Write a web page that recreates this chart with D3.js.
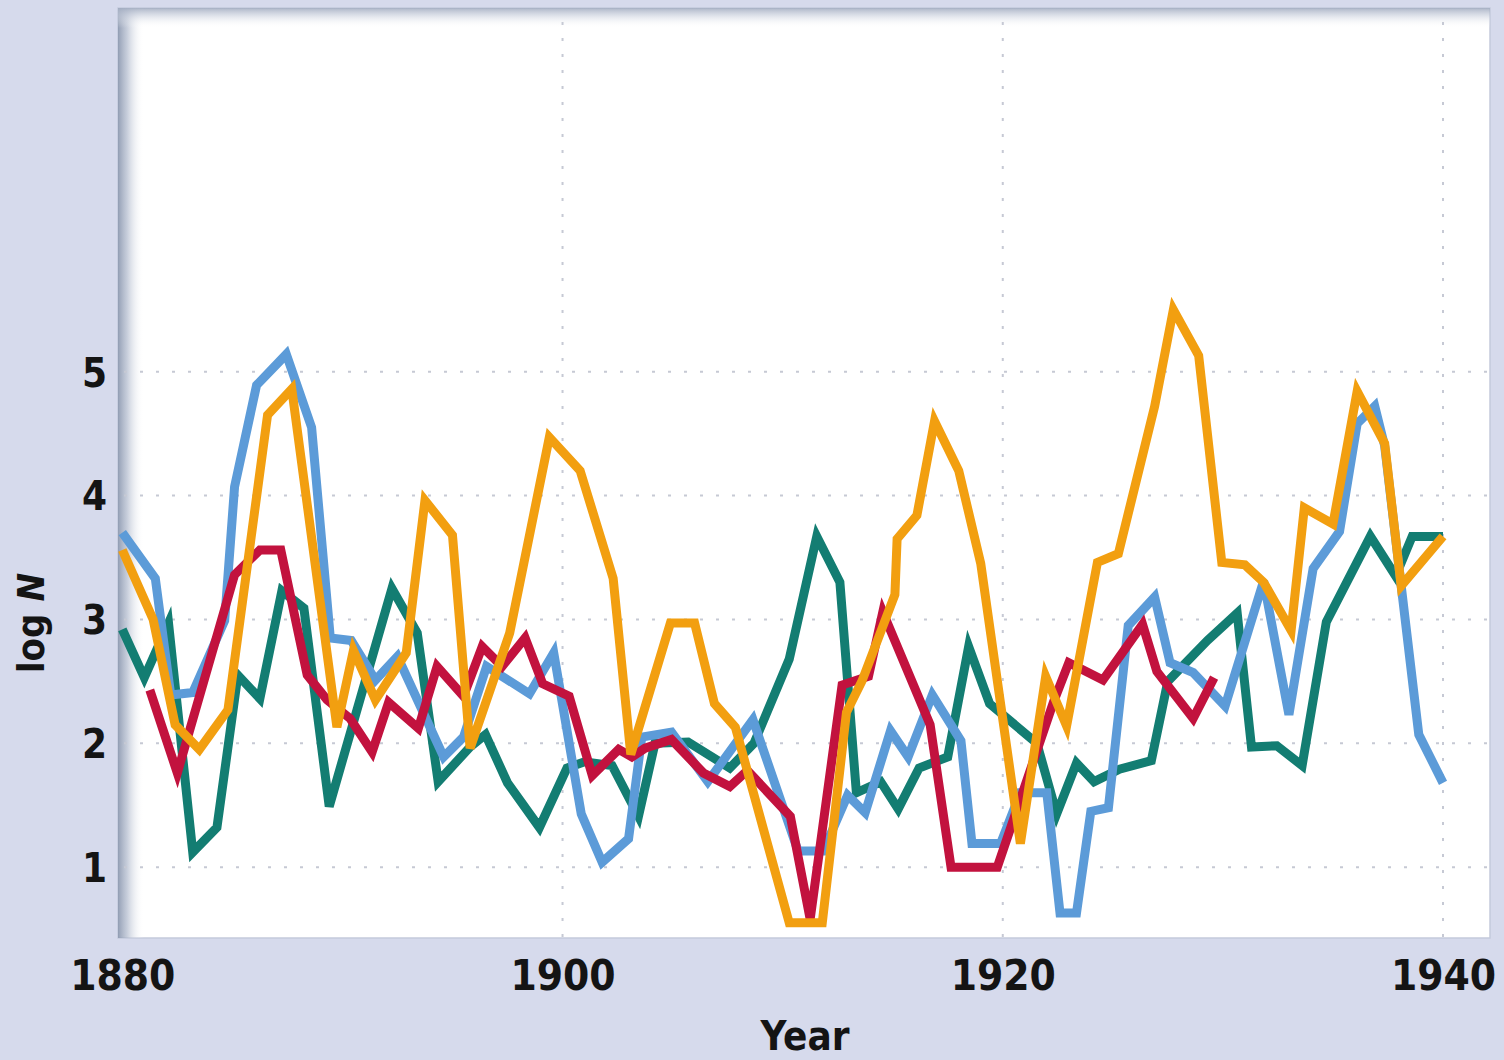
<!DOCTYPE html>
<html>
<head>
<meta charset="utf-8">
<title>log N by year, 1880–1940</title>
<script src="https://cdn.jsdelivr.net/npm/d3@7"></script>
<style>
  html, body { margin: 0; padding: 0; background: #d6daec; }
  svg { display: block; }
  .lbl { font-family: "Liberation Sans Narrow", "DejaVu Sans Condensed", "Liberation Sans", sans-serif; font-weight: bold; fill: #141414; }
</style>
</head>
<body>
<svg id="chart" width="1504" height="1060"></svg>
<script>
// ---- data -------------------------------------------------------------
const xTickYears = [1880, 1900, 1920, 1940];
const xGridYears = [1900, 1920, 1940];
const yTickValues = [1, 2, 3, 4, 5];

const tealYears  = [1880, 1881.0, 1882.1, 1883.2, 1884.3, 1885.25, 1886.25, 1887.25, 1888.25, 1889.4,
                    1892.25, 1893.4, 1894.35, 1895.8, 1896.5, 1897.5, 1898.95, 1900.2, 1901.0, 1902.25,
                    1903.45, 1904.2, 1905.7, 1907.6, 1908.7, 1910.3, 1911.55, 1912.6, 1913.35, 1914.45,
                    1915.25, 1916.2, 1917.5, 1918.45, 1919.4, 1921.55, 1922.45, 1923.35, 1924.15, 1925.3,
                    1926.75, 1927.5, 1929.3, 1930.65, 1931.3, 1932.45, 1933.6, 1934.7, 1936.7, 1937.85,
                    1938.6, 1940];
const tealValues = [2.92, 2.53, 2.97, 1.12, 1.32, 2.55, 2.36, 3.23, 3.09, 1.49,
                    3.25, 2.89, 1.69, 1.97, 2.07, 1.68, 1.32, 1.80, 1.85, 1.82,
                    1.41, 2.00, 2.01, 1.80, 2.00, 2.68, 3.67, 3.30, 1.60, 1.69,
                    1.47, 1.80, 1.89, 2.78, 2.32, 2.00, 1.43, 1.84, 1.69, 1.79,
                    1.86, 2.50, 2.83, 3.05, 1.97, 1.98, 1.82, 2.98, 3.67, 3.35,
                    3.67, 3.67];

const blueYears  = [1880, 1881.5, 1882.2, 1883.2, 1884.65, 1885.1, 1886.1, 1887.45, 1888.6, 1889.45,
                    1890.4, 1891.5, 1892.5, 1894.6, 1895.5, 1896.55, 1898.5, 1899.6, 1900.85, 1901.8,
                    1903.0, 1903.6, 1904.95, 1906.6, 1908.65, 1910.7, 1911.85, 1912.95, 1913.75, 1914.9,
                    1915.7, 1916.8, 1918.1, 1918.6, 1919.9, 1920.8, 1922.0, 1922.6, 1923.35, 1924.0,
                    1924.8, 1925.7, 1926.9, 1927.6, 1928.65, 1930.1, 1931.85, 1933.0, 1934.1, 1935.3,
                    1936.1, 1936.9, 1937.35, 1938.9, 1940];
const blueValues = [3.70, 3.33, 2.39, 2.41, 2.99, 4.07, 4.89, 5.14, 4.55, 2.85,
                    2.83, 2.51, 2.70, 1.89, 2.05, 2.62, 2.40, 2.73, 1.43, 1.04,
                    1.23, 2.05, 2.09, 1.69, 2.19, 1.13, 1.13, 1.58, 1.44, 2.10,
                    1.89, 2.39, 2.02, 1.19, 1.19, 1.60, 1.60, 0.63, 0.63, 1.45,
                    1.48, 2.95, 3.18, 2.65, 2.57, 2.30, 3.31, 2.23, 3.41, 3.71,
                    4.58, 4.72, 4.40, 2.07, 1.68];

const redYears   = [1881.25, 1882.5, 1885.1, 1886.25, 1887.2, 1888.4, 1889.3, 1890.35, 1891.35, 1892.1,
                    1893.45, 1894.3, 1895.5, 1896.35, 1897.25, 1898.3, 1899.1, 1900.3, 1901.35, 1902.55,
                    1903.15, 1903.75, 1904.95, 1906.4, 1907.6, 1908.4, 1910.35, 1911.25, 1912.7, 1913.9,
                    1914.55, 1916.7, 1917.65, 1919.75, 1922.3, 1923.0, 1924.55, 1926.35, 1927.0, 1928.65,
                    1929.6];
const redValues  = [2.43, 1.76, 3.36, 3.56, 3.56, 2.55, 2.35, 2.20, 1.93, 2.33,
                    2.12, 2.62, 2.38, 2.78, 2.62, 2.85, 2.48, 2.38, 1.74, 1.95,
                    1.89, 1.96, 2.03, 1.76, 1.65, 1.78, 1.41, 0.58, 2.47, 2.54,
                    3.06, 2.15, 1.00, 1.00, 2.33, 2.65, 2.51, 2.96, 2.58, 2.20,
                    2.53];

const orangeYears  = [1880, 1881.4, 1882.4, 1883.5, 1884.8, 1886.6, 1887.7, 1889.75, 1890.5, 1891.5,
                      1892.9, 1893.75, 1895.0, 1895.8, 1897.6, 1899.4, 1900.8, 1902.3, 1903.1, 1904.9,
                      1906.0, 1906.9, 1907.85, 1910.3, 1911.8, 1912.9, 1913.6, 1915.1, 1915.2, 1916.1,
                      1916.9, 1918.0, 1919.0, 1920.8, 1921.95, 1922.9, 1924.3, 1925.25, 1926.9, 1927.75,
                      1928.9, 1929.95, 1931.0, 1931.85, 1933.1, 1933.7, 1935.0, 1936.1, 1937.35, 1938.1,
                      1940];
const orangeValues = [3.56, 3.00, 2.15, 1.95, 2.27, 4.65, 4.86, 2.13, 2.75, 2.35,
                      2.73, 3.96, 3.68, 1.96, 2.89, 4.47, 4.20, 3.33, 1.91, 2.97,
                      2.97, 2.32, 2.13, 0.55, 0.55, 2.25, 2.50, 3.20, 3.65, 3.84,
                      4.60, 4.20, 3.45, 1.19, 2.54, 2.14, 3.46, 3.53, 4.72, 5.50,
                      5.13, 3.46, 3.44, 3.30, 2.91, 3.90, 3.77, 4.84, 4.42, 3.27,
                      3.67];

// drawing order: teal underneath, orange on top
const series = [
  { name: "teal",   color: "#137d72", years: tealYears,   values: tealValues },
  { name: "blue",   color: "#5c9bd8", years: blueYears,   values: blueValues },
  { name: "red",    color: "#c2123e", years: redYears,    values: redValues },
  { name: "orange", color: "#f29f10", years: orangeYears, values: orangeValues }
];

// ---- layout -----------------------------------------------------------
const W = 1504, H = 1060;
const frame = { left: 118, top: 8, right: 1490, bottom: 938 };

const x = d3.scaleLinear().domain([1880, 1940]).range([122.3, 1443]);
const y = d3.scaleLinear().domain([0, 8]).range([991, 0]);

const svg = d3.select("#chart");
const defs = svg.append("defs");

// soft inner shading along the top and left edges of the panel
const shadeL = defs.append("linearGradient").attr("id", "shadeL")
  .attr("x1", 0).attr("x2", 1).attr("y1", 0).attr("y2", 0);
shadeL.append("stop").attr("offset", 0).attr("stop-color", "#8e9ab1").attr("stop-opacity", 0.95);
shadeL.append("stop").attr("offset", 0.35).attr("stop-color", "#b4bdcf").attr("stop-opacity", 0.75);
shadeL.append("stop").attr("offset", 1).attr("stop-color", "#ffffff").attr("stop-opacity", 0);

const shadeT = defs.append("linearGradient").attr("id", "shadeT")
  .attr("x1", 0).attr("x2", 0).attr("y1", 0).attr("y2", 1);
shadeT.append("stop").attr("offset", 0).attr("stop-color", "#a3adc1").attr("stop-opacity", 0.9);
shadeT.append("stop").attr("offset", 0.35).attr("stop-color", "#c2c9d8").attr("stop-opacity", 0.6);
shadeT.append("stop").attr("offset", 1).attr("stop-color", "#ffffff").attr("stop-opacity", 0);

defs.append("clipPath").attr("id", "plotClip").append("rect")
  .attr("x", frame.left).attr("y", frame.top)
  .attr("width", frame.right - frame.left).attr("height", frame.bottom - frame.top);

svg.append("rect").attr("width", W).attr("height", H).attr("fill", "#d6daec");

svg.append("rect")
  .attr("x", frame.left).attr("y", frame.top)
  .attr("width", frame.right - frame.left).attr("height", frame.bottom - frame.top)
  .attr("fill", "#ffffff").attr("stroke", "#c4cadb").attr("stroke-width", 1.5);

svg.append("rect").attr("x", frame.left).attr("y", frame.top)
  .attr("width", 26).attr("height", frame.bottom - frame.top).attr("fill", "url(#shadeL)");
svg.append("rect").attr("x", frame.left).attr("y", frame.top)
  .attr("width", frame.right - frame.left).attr("height", 20).attr("fill", "url(#shadeT)");

// ---- dotted grid ------------------------------------------------------
const grid = svg.append("g").attr("stroke", "#c6c9d4").attr("stroke-width", 2)
  .attr("stroke-dasharray", "3 13");

grid.selectAll("line.h").data(yTickValues).join("line").attr("class", "h")
  .attr("x1", frame.left + 6).attr("x2", frame.right)
  .attr("y1", d => y(d)).attr("y2", d => y(d));

grid.selectAll("line.v").data(xGridYears).join("line").attr("class", "v")
  .attr("x1", d => x(d)).attr("x2", d => x(d))
  .attr("y1", frame.top + 14).attr("y2", frame.bottom);

// ---- series lines -----------------------------------------------------
const line = d3.line().x(d => x(d[0])).y(d => y(d[1]));

svg.append("g").attr("clip-path", "url(#plotClip)")
  .selectAll("path").data(series).join("path")
  .attr("d", s => line(d3.zip(s.years, s.values)))
  .attr("fill", "none")
  .attr("stroke", s => s.color)
  .attr("stroke-width", 9)
  .attr("stroke-linejoin", "miter")
  .attr("stroke-miterlimit", 4)
  .attr("stroke-linecap", "butt");

// ---- axes -------------------------------------------------------------
const xAxis = svg.append("g").attr("transform", "translate(0,990)")
  .call(d3.axisBottom(x).tickValues(xTickYears).tickFormat(d3.format("d")).tickSize(0).tickPadding(0));
xAxis.select(".domain").remove();
xAxis.selectAll("text").attr("class", "lbl").attr("y", 0).attr("dy", 0)
  .style("font-size", "42px");

const yAxis = svg.append("g").attr("transform", "translate(107,0)")
  .call(d3.axisLeft(y).tickValues(yTickValues).tickFormat(d3.format("d")).tickSize(0).tickPadding(0));
yAxis.select(".domain").remove();
yAxis.selectAll("text").attr("class", "lbl").attr("dy", "0.36em")
  .style("font-size", "40px");

// axis titles
svg.append("text").attr("class", "lbl")
  .attr("x", 805).attr("y", 1050).attr("text-anchor", "middle")
  .style("font-size", "40px").text("Year");

const yTitle = svg.append("text").attr("class", "lbl")
  .attr("transform", "translate(44,623) rotate(-90)")
  .attr("text-anchor", "middle").style("font-size", "38px");
yTitle.append("tspan").text("log ");
yTitle.append("tspan").style("font-style", "italic").text("N");
</script>
</body>
</html>
